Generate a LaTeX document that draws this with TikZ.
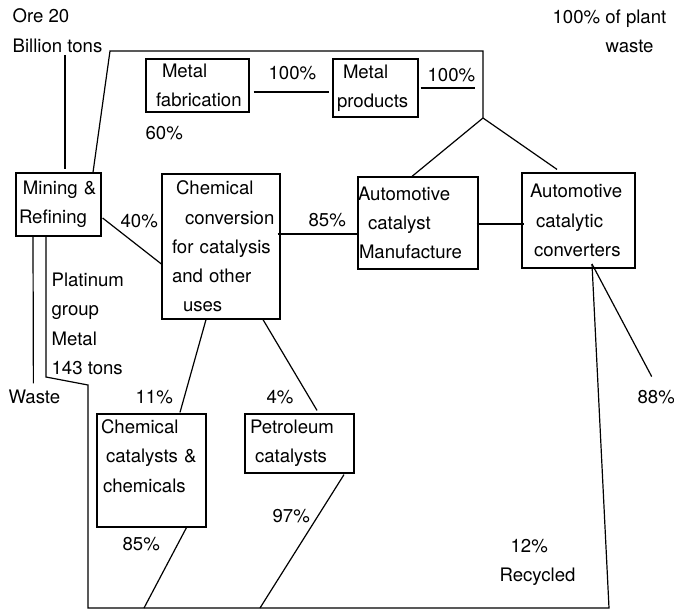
\documentclass[tikz,border=0pt]{standalone}
\usepackage{fontspec}
\setmainfont{TeX Gyre Heros}
\begin{document}
\begin{tikzpicture}[x=1pt,y=-1pt,line width=1.2pt]
			\tikzstyle{every node}+=[inner sep=0pt,font=\fontsize{18.6}{29.3}\selectfont]
			\tikzstyle{box}=[draw,align=left]
			\tikzstyle{lbl}=[anchor=west]
			\tikzstyle{lines}=[anchor=north west,align=left]
			\useasboundingbox (0,0) rectangle (674,610);
			\node [box,text width=103pt,minimum height=53pt] (fab) at (197.5,85.5) {\hspace*{16pt}Metal\\\hspace*{10pt}fabrication};
			\node [box,text width=85pt,minimum height=58pt] (products) at (375.5,88) {\hspace*{10pt}Metal\\\hspace*{4pt}products};
			\node [box,text width=85pt,minimum height=63pt] (mining) at (58.5,204.5) {\hspace*{7pt}Mining \&\\\hspace*{3pt}Refining};
			\node [box,text width=118pt,minimum height=145pt] (conv) at (221,246.5) {\hspace*{14pt}Chemical\\\hspace*{23pt}conversion\\\hspace*{10pt}for catalysis\\\hspace*{10pt}and other\\\hspace*{21pt}uses};
			\node [box,text width=120pt,minimum height=92pt] (manuf) at (418,223) {Automotive\\\hspace*{10pt}catalyst\\\hspace*{1pt}Manufacture};
			\node [box,text width=113pt,minimum height=95pt] (converters) at (578.5,220.5) {\hspace*{8pt}Automotive\\\hspace*{14pt}catalytic\\\hspace*{12pt}converters};
			\node [box,text width=109pt,minimum height=113pt] (chemcat) at (151.5,470.5) {\hspace*{4pt}Chemical\\\hspace*{9pt}catalysts \&\\\hspace*{6pt}chemicals\\\mbox{}};
			\node [box,text width=109pt,minimum height=59pt] (petro) at (299.5,443.5) {\hspace*{5pt}Petroleum\\\hspace*{10pt}catalysts};
			\node [lines] (ore) at (12,8.3) {Ore 20\\Billion tons};
			\node [lines] (plant) at (552,9.3) {100\% of plant\\\hspace*{53pt}waste};
			\node [lines] (pgm) at (51,272.3) {Platinum\\group\\Metal\\143 tons};
			\node [lines] (recycled) at (499,538.3) {\hspace*{11pt}12\%\\Recycled};
			\node [lbl] (p60) at (145,133) {60\%};
			\node [lbl] (p100a) at (268,73) {100\%};
			\node [lbl] (p100b) at (427,75) {100\%};
			\node [lbl] (p40) at (120,221) {40\%};
			\node [lbl] (p85a) at (308,220) {85\%};
			\node [lbl] (waste) at (8,397) {Waste};
			\node [lbl] (p11) at (135,397) {11\%};
			\node [lbl] (p4) at (266,397) {4\%};
			\node [lbl] (p88) at (637,397) {88\%};
			\node [lbl] (p97) at (272,516) {97\%};
			\node [lbl] (p85b) at (122,544) {85\%};
			\coordinate (orefoot) at (65,55);
			\coordinate (tl) at (110,51);
			\coordinate (tr) at (483,51);
			\coordinate (fork) at (483,118);
			\coordinate (pend) at (475,88);
			\coordinate (cc) at (592,264);
			\coordinate (br) at (609,608);
			\coordinate (bl) at (88,608);
			\coordinate (k1) at (88,385);
			\coordinate (k2) at (46,377);
			\coordinate (f1) at (144,608);
			\coordinate (f2) at (260,608);
			\draw (orefoot) -- ([shift={(6.5,-3)}]mining.north);
			\draw ([xshift=34.5pt]mining.north) -- (tl) -- (tr) -- (fork);
			\draw (fork) -- ([xshift=-6pt]manuf.north);
			\draw (fork) -- ([shift={(-21.5,-3)}]converters.north);
			\draw ([shift={(4,6.5)}]fab.east) -- ([shift={(-3,4)}]products.west);
			\draw ([xshift=2pt]products.east) -- (pend);
			\draw ([shift={(1,13.5)}]mining.east) -- ([shift={(0,17.5)}]conv.west);
			\draw ([shift={(-3,-12.5)}]conv.east) -- ([shift={(0,11)}]manuf.west);
			\draw ([shift={(-2,1)}]manuf.east) -- ([shift={(3,3.5)}]converters.west);
			\draw ([shift={(-15,0)}]conv.south) -- ([shift={(28.5,-1)}]chemcat.north);
			\draw ([shift={(42,0)}]conv.south) -- ([shift={(17.5,-3)}]petro.north);
			\draw ([shift={(35.5,-1)}]chemcat.south) -- (f1);
			\draw ([shift={(44.5,1)}]petro.south) -- (f2);
			\draw (cc) -- ([shift={(-4.5,-13)}]p88.north);
			\draw (cc) -- (br) -- (bl) -- (k1) -- (k2) -- ([xshift=-12.5pt]mining.south);
			\draw ([shift={(-1,-6)}]waste.north) -- ([xshift=-25.5pt]mining.south);
\end{tikzpicture}
\end{document}
